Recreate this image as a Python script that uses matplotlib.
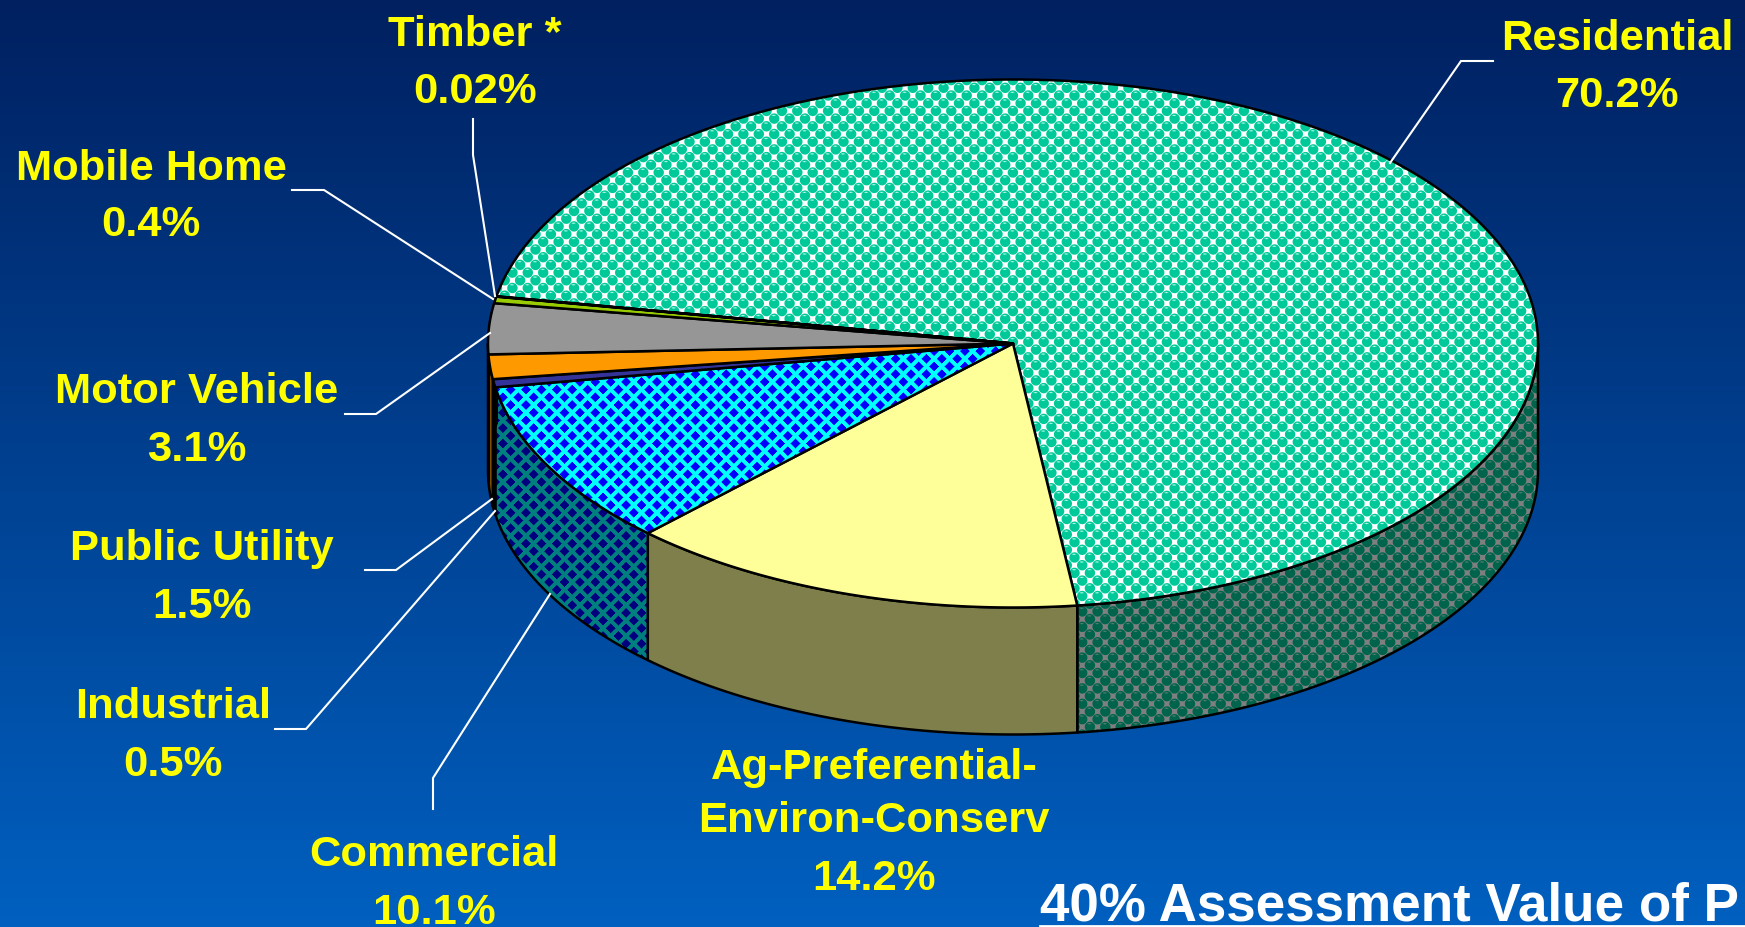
import numpy as np
import matplotlib
matplotlib.use('Agg')
import matplotlib.pyplot as plt
from matplotlib.patches import Polygon

plt.rcParams['font.family'] = ['Liberation Sans', 'DejaVu Sans']

# slices, clockwise from the residential one
categories = ['Residential', 'Ag-Preferential-\nEnviron-Conserv', 'Commercial', 'Industrial',
              'Public Utility', 'Motor Vehicle', 'Mobile Home', 'Timber *']
values = [70.2, 14.2, 10.1, 0.5, 1.5, 3.1, 0.4, 0.02]

W, H = 1745, 928
cx, cy, a, b = 1013, 344.5, 525, 264
depth = 127
start_angle = 169.7

# label layout (pixels)
label_x = [1617, 874, 434, 173, 202, 197, 151, 475]
label_y = [[50, 107], [779, 832, 890], [866, 924], [718, 776], [560, 618], [403, 461], [180, 236], [46, 103]]
leaders = [
    [(1493, 62), (1461, 62), (1390, 164)],
    [],
    [(433, 810), (433, 779), (550, 595)],
    [(275, 730), (306, 730), (495, 512)],
    [(365, 571), (396, 571), (492, 500)],
    [(345, 415), (376, 415), (490, 334)],
    [(292, 191), (324, 191), (493, 300)],
    [(473, 120), (473, 156), (495, 297)],
]

xx, yy = np.meshgrid(np.arange(W) + 0.5, np.arange(H) + 0.5)


def solid(color):
    rgb = np.array(matplotlib.colors.to_rgb(color))
    return np.ones((H, W, 3)) * rgb


def lattice(period=15.4, x0=518.3, y0=398.3):
    # distance to nearest point of a staggered grid, in rotated coords
    u = (xx - x0) + (yy - y0)
    v = (xx - x0) - (yy - y0)
    du = (u + period / 2) % period - period / 2
    dv = (v + period / 2) % period - period / 2
    return du, dv


def diamonds(fg, bg):
    du, dv = lattice()
    d = np.maximum(np.abs(du), np.abs(dv))
    m = np.clip(5.4 - d, 0, 1)[..., None]
    return m * np.array(matplotlib.colors.to_rgb(fg)) + (1 - m) * np.array(matplotlib.colors.to_rgb(bg))


def spheres():
    du, dv = lattice(x0=1113.0, y0=212.0)
    dx = (du + dv) / 2
    dy = (du - dv) / 2
    r = np.hypot(dx, dy)
    m = np.clip(5.7 - r, 0, 1)[..., None]
    img = m * np.array([0.0, 0.79, 0.60]) + (1 - m) * np.ones(3)
    hl = np.clip(1.0 - np.hypot((dx + 0.5) / 2.6, (dy + 3.2) / 1.1), 0, 1)[..., None] * m
    return hl * np.array([0.8, 1.0, 0.95]) + (1 - hl) * img


top_fill = [spheres(), solid('#ffff99'), diamonds('#0000ff', '#00ffff'), solid('#333399'),
            solid('#ff9900'), solid('#969696'), solid('#99cc00'), solid('#ffffff')]

fig = plt.figure(figsize=(W / 100, H / 100), dpi=100)
ax = fig.add_axes([0, 0, 1, 1])
ax.set_xlim(0, W)
ax.set_ylim(H, 0)
ax.axis('off')

# background gradient
t = np.linspace(0, 1, H)[:, None, None]
bg = (1 - t) * np.array([0, 0x20, 0x60]) / 255 + t * np.array([0, 0x60, 0xc0]) / 255
ax.imshow(np.repeat(bg, 2, axis=1), extent=(0, W, H, 0), aspect='auto', zorder=0)


def arc(t0, t1, dy=0):
    n = max(int(abs(t1 - t0) * 2), 2)
    th = np.radians(np.linspace(t0, t1, n))
    return np.column_stack([cx + a * np.cos(th), cy + dy - b * np.sin(th)])


def patterned(poly_xy, img, z):
    im = ax.imshow(img, extent=(0, W, H, 0), aspect='auto', zorder=z, interpolation='nearest')
    outline = Polygon(poly_xy, closed=True, facecolor='none', edgecolor='black', lw=1.8, zorder=z + 0.1,
                      joinstyle='round')
    ax.add_patch(outline)
    im.set_clip_path(outline)


# side walls first, then the top face
total = sum(values)
angle = start_angle
bounds = []
for v in values:
    bounds.append((angle, angle - v / total * 360))
    angle = bounds[-1][1]

for i, (t0, t1) in enumerate(bounds):
    lo, hi = max(t1, -180 if t0 > -180 else t1), min(t0, 0)
    if t1 < -180 and t0 >= -180:
        lo = -180
    if hi <= lo:
        continue
    top = arc(hi, lo)
    bottom = arc(lo, hi, depth)
    patterned(np.vstack([top, bottom]), top_fill[i] * 0.5, 2 + i * 0.2)

for i, (t0, t1) in enumerate(bounds):
    pts = np.vstack([[(cx, cy)], arc(t0, t1)])
    patterned(pts, top_fill[i], 5 + i * 0.2)

# leader lines
for pts in leaders:
    if pts:
        p = np.array(pts)
        ax.plot(p[:, 0], p[:, 1], color='white', lw=1.5, zorder=8, solid_joinstyle='miter')

# labels
for name, v, x, ys in zip(categories, values, label_x, label_y):
    lines = name.split('\n') + [f'{v}%']
    for line, y in zip(lines, ys):
        ax.text(x, y, line, color='#ffff00', fontsize=31.3, fontweight='bold', ha='center', va='baseline', zorder=9)

ax.text(1040, 921, '40% Assessment Value of P', color='white', fontsize=38.2, fontweight='bold',
        ha='left', va='baseline', zorder=9)
ax.plot([1040, W], [927, 927], color='white', lw=2, zorder=9)

fig.savefig('out.png', dpi=100)
